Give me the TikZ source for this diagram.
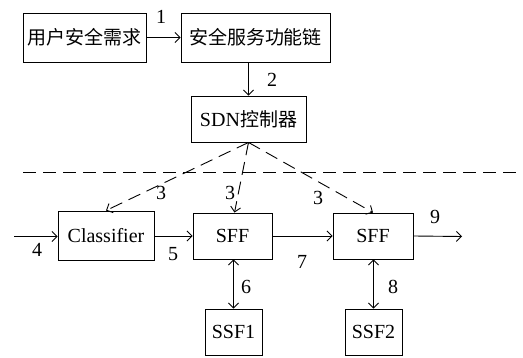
\documentclass[tikz,border=0pt]{standalone}
\usepackage{fontspec}
\setmainfont{Liberation Serif}
\newfontfamily\cjk{Noto Sans CJK SC}
\usetikzlibrary{arrows.meta}
\begin{document}
\begin{tikzpicture}[x=1pt,y=-1pt,
  box/.style={draw,line width=0.9pt,inner sep=0pt,font=\fontsize{20}{22}\selectfont},
  lbl/.style={inner sep=0pt,font=\fontsize{20}{22}\selectfont},
  conn/.style={line width=0.9pt,-{Straight Barb[length=5pt,width=10pt]}},
  dconn/.style={line width=0.9pt,{Straight Barb[length=5pt,width=10pt]}-{Straight Barb[length=5pt,width=10pt]}},
  dashline/.style={line width=0.9pt,dash pattern=on 13pt off 7pt}]
\useasboundingbox (0,0) rectangle (523,358);
\node[box,minimum width=123pt,minimum height=49pt] (req) at (84.5,37.5) {\cjk\fontsize{19}{21}\selectfont 用户安全需求};
\node[box,minimum width=149pt,minimum height=49pt] (sfc) at (255.5,37.5) {\cjk\fontsize{19}{21}\selectfont 安全服务功能链};
\node[box,minimum width=115pt,minimum height=46pt] (sdn) at (248.5,119) {SDN{\cjk\fontsize{19}{21}\selectfont 控制器}};
\node[box,minimum width=96pt,minimum height=49pt] (cls) at (106,235.5) {Classifier};
\node[box,minimum width=79pt,minimum height=46pt] (sff1) at (232.5,236) {SFF};
\node[box,minimum width=80pt,minimum height=46pt] (sff2) at (373,236) {SFF};
\node[box,minimum width=57pt,minimum height=46pt] (ssf1) at (233.5,332) {SSF1};
\node[box,minimum width=57pt,minimum height=46pt] (ssf2) at (373.5,332) {SSF2};
\coordinate (in) at (14,236.5);
\coordinate (out) at (462,236.5);
\coordinate (dl) at (23,172);
\coordinate (dr) at (523,172);
\draw[conn] (req.east) -- (sfc.west);
\draw[conn] (sfc.south -| sdn.north) -- (sdn.north);
\draw[dashline] (dl) -- (dr);
\draw[conn,dashline] (sdn.south) -- (cls.north);
\draw[conn,dashline] (sdn.south) -- ([xshift=2pt]sff1.north);
\draw[conn,dashline] (sdn.south) -- (sff2.north);
\draw[conn] (in) -- (in -| cls.west);
\draw[conn] (cls.east |- sff1.west) -- (sff1.west);
\draw[conn] (sff1.east) -- (sff2.west);
\draw[conn] (sff2.east) -- (out);
\draw[dconn] (sff1.south -| ssf1.north) -- (ssf1.north);
\draw[dconn] (sff2.south -| ssf2.north) -- (ssf2.north);
\node[lbl] (l1) at (161,17) {1};
\node[lbl] (l2) at (272,80) {2};
\node[lbl] (l3a) at (161,193) {3};
\node[lbl] (l3b) at (230,193) {3};
\node[lbl] (l3c) at (318,198) {3};
\node[lbl] (l4) at (37,250) {4};
\node[lbl] (l5) at (173,254) {5};
\node[lbl] (l7) at (302,262) {7};
\node[lbl] (l9) at (435,217) {9};
\node[lbl] (l6) at (246,287) {6};
\node[lbl] (l8) at (393,287) {8};
\end{tikzpicture}
\end{document}
